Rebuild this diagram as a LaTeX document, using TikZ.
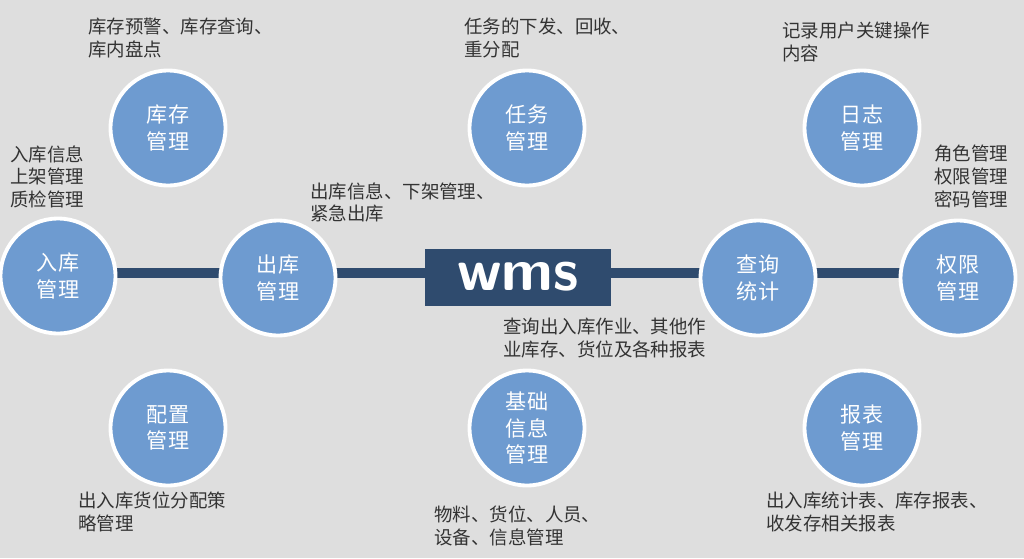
\documentclass[tikz,border=0pt]{standalone}
\usepackage{fontspec}
\newfontfamily\cjk{Noto Sans CJK SC}
\definecolor{bgc}{HTML}{DEDEDE}
\definecolor{barc}{HTML}{2F4B6E}
\definecolor{cirf}{HTML}{6E9BD0}
\definecolor{txtc}{HTML}{333333}
\tikzset{
  modcircle/.style={circle,draw=white,line width=2.2pt,fill=cirf,minimum size=2.3cm,
    text=white,font=\cjk\fontsize{12}{15}\selectfont,align=center,inner sep=0pt},
  note/.style={anchor=north west,align=left,text=txtc,font=\cjk\fontsize{10.5}{13}\selectfont,inner sep=0pt}
}
\begin{document}
\begin{tikzpicture}[x=0.02cm,y=-0.02cm]
\useasboundingbox[fill=bgc] (0,0) rectangle (1024,558);
\draw[barc,line width=5.5pt] (58,273)--(958,273);
\node[fill=barc,minimum width=3.72cm,minimum height=1.14cm,text=white,
  font=\sffamily\bfseries\fontsize{34}{34}\selectfont] (wms) at (518,277) {wms};
\node[modcircle] (ruku) at (58,276) {入库\\管理};
\node[modcircle] (chuku) at (278,278) {出库\\管理};
\node[modcircle] (kucun) at (168,128) {库存\\管理};
\node[modcircle] (peizhi) at (168,428) {配置\\管理};
\node[modcircle] (renwu) at (527,128) {任务\\管理};
\node[modcircle] (jichu) at (527,428) {基础\\信息\\管理};
\node[modcircle] (rizhi) at (862,128) {日志\\管理};
\node[modcircle] (baobiao) at (862,428) {报表\\管理};
\node[modcircle] (chaxun) at (758,278) {查询\\统计};
\node[modcircle] (quanxian) at (958,278) {权限\\管理};
\node[note] (n1) at (88,18) {库存预警、库存查询、\\库内盘点};
\node[note] (n2) at (10,145) {入库信息\\上架管理\\质检管理};
\node[note] (n3) at (310,182) {出库信息、下架管理、\\紧急出库};
\node[note] (n4) at (464,18) {任务的下发、回收、\\重分配};
\node[note] (n5) at (782,22) {记录用户关键操作\\内容};
\node[note] (n6) at (934,145) {角色管理\\权限管理\\密码管理};
\node[note] (n7) at (503,318) {查询出入库作业、其他作\\业库存、货位及各种报表};
\node[note] (n8) at (78,492) {出入库货位分配策\\略管理};
\node[note] (n9) at (434,506) {物料、货位、人员、\\设备、信息管理};
\node[note] (n10) at (766,492) {出入库统计表、库存报表、\\收发存相关报表};
\end{tikzpicture}
\end{document}
